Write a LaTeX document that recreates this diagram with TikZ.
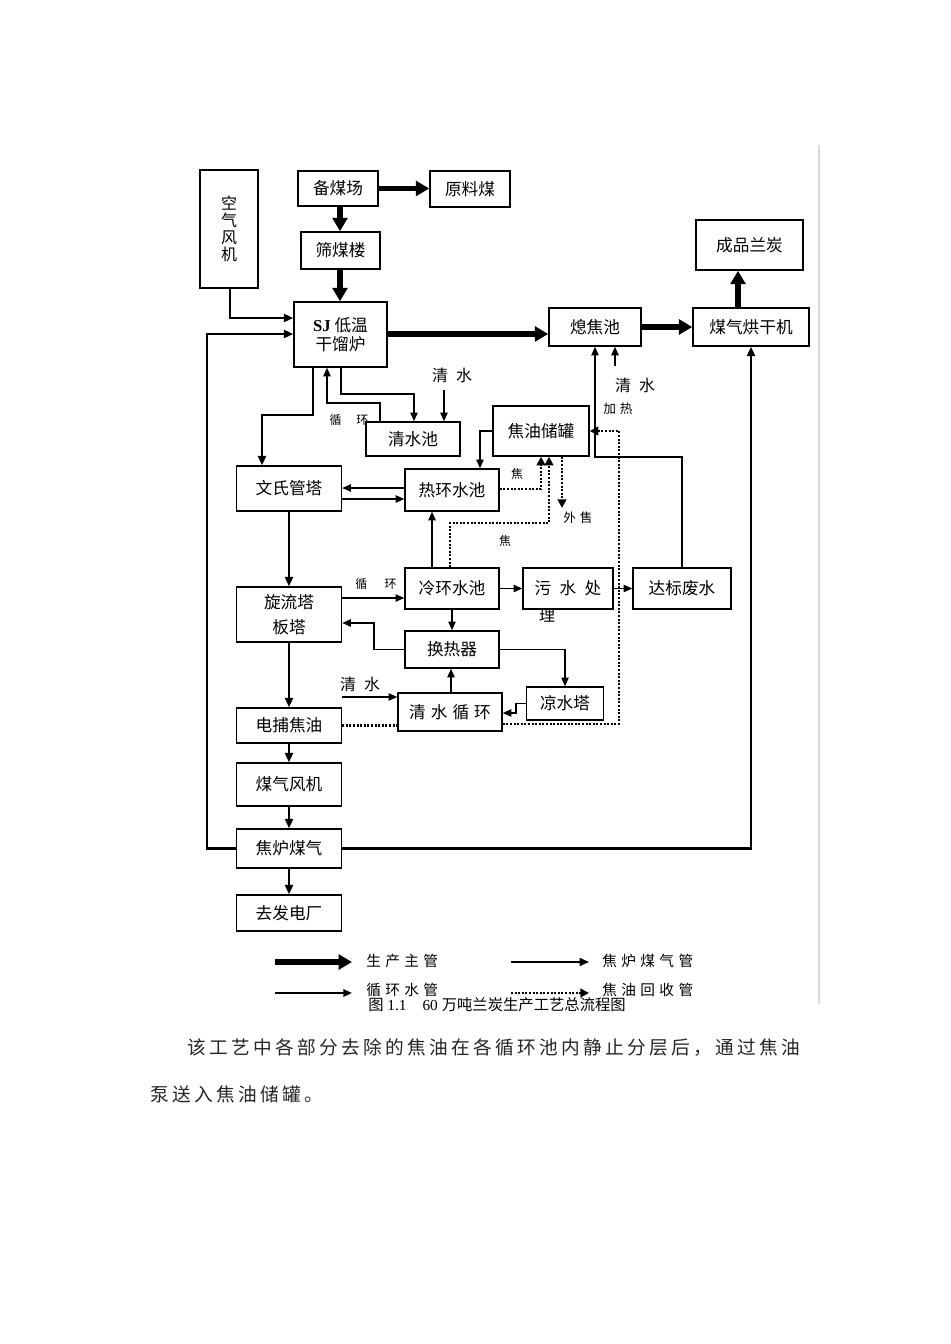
\documentclass[tikz,border=0pt]{standalone}
\usepackage{fontspec}
\setmainfont{Liberation Serif}
\newfontfamily\cjk{Noto Sans CJK SC}
\newfontfamily\cjksp[LetterSpace=30]{Noto Sans CJK SC}
\newfontfamily\cjkwide[LetterSpace=50]{Noto Sans CJK SC}
\newfontfamily\cjkbody[LetterSpace=18]{Noto Sans CJK SC}
\usetikzlibrary{arrows.meta}

\begin{document}
\begin{tikzpicture}[
    x=0.75pt, y=-0.75pt,
    every node/.style={font=\cjk\fontsize{12.5}{14}\selectfont, inner sep=0pt},
    box/.style={draw, line width=1.1pt, align=center},
    sz/.style 2 args={minimum width=#1*0.75pt, minimum height=#2*0.75pt},
    main/.style={line width=3.8pt, -{Triangle[length=10pt,width=11pt]}},
    gas/.style={line width=1.6pt, -{Triangle[length=7pt,width=6pt]}},
    water/.style={line width=1.1pt, -{Triangle[length=6.5pt,width=5.5pt]}},
    oil/.style={line width=2.1pt, dash pattern=on 1.5pt off 1.2pt, -{Triangle[length=6.5pt,width=6.5pt]}},
    tag/.style={font=\cjk\fontsize{9}{11}\selectfont},
    wtag/.style={font=\cjk\fontsize{12}{14}\selectfont},
    legend/.style={font=\cjksp\fontsize{11}{13}\selectfont, anchor=west}
    ]
    \fill[white] (0,0) rectangle (950,1344);
    \useasboundingbox (0,0) rectangle (950,1344);
    \draw[black!15, line width=1pt] (819,145) -- (819,1004);

    \node[box, sz={58}{118}, font=\cjk\fontsize{12}{12.8}\selectfont] (kq) at (229,229) {空\\气\\风\\机};
    \node[box, sz={80}{35}] (bmc) at (338,188.5) {备煤场};
    \node[box, sz={80}{36}] (ylm) at (470,189) {原料煤};
    \node[box, sz={79}{37}] (sml) at (340.5,250.5) {筛煤楼};
    \node[box, sz={93}{65}] (sj) at (340.5,334.5) {{\rmfamily\bfseries SJ} 低温\\干馏炉};
    \node[box, sz={92}{38}] (xjc) at (595,327) {熄焦池};
    \node[box, sz={116}{38}] (hgj) at (751,327) {煤气烘干机};
    \node[box, sz={107}{50}] (cp) at (749.5,245) {成品兰炭};
    \node[box, sz={94}{34}] (qsc) at (413,439) {清水池};
    \node[box, sz={96}{50}] (jycg) at (541,431) {焦油储罐};
    \node[box, sz={105}{45}] (wsg) at (289,488.5) {文氏管塔};
    \node[box, sz={94}{42}] (rhc) at (452,490) {热环水池};
    \node[box, sz={105}{55}, font=\cjk\fontsize{12.5}{18.75}\selectfont] (xlt) at (289,614.5) {旋流塔\\板塔};
    \node[box, sz={94}{41}] (lhc) at (452,588.5) {冷环水池};
    \node[box, sz={90}{41}, font=\cjkwide\fontsize{12.5}{14}\selectfont] (wscl) at (568,588.5) {污水处};
    \node[box, sz={98}{41}] (dbfs) at (682,588.5) {达标废水};
    \node[box, sz={94}{37}] (hrq) at (452,649.5) {换热器};
    \node[box, sz={77}{33}] (lst) at (565,703.5) {凉水塔};
    \node[box, sz={104}{38}, font=\cjksp\fontsize{12.5}{14}\selectfont] (qsxh) at (450,712) {清水循环};
    \node[box, sz={105}{35}] (dbjy) at (289,725.5) {电捕焦油};
    \node[box, sz={105}{43}] (mqfj) at (289,784.5) {煤气风机};
    \node[box, sz={105}{39}] (jlmq) at (289,848.5) {焦炉煤气};
    \node[box, sz={105}{36}] (qfdc) at (289,913) {去发电厂};

    \node[tag] (xh1) at (349,420) {循\hspace{11pt}环};
    \node[tag] (xh2) at (376,584) {循\hspace{13pt}环};
    \node[tag] (jiao1) at (517,474) {焦};
    \node[tag] (jiao2) at (505,541) {焦};
    \node[tag, font=\cjksp\fontsize{9.5}{11}\selectfont] (ws) at (578,518) {外售};
    \node[tag, font=\cjksp\fontsize{9.5}{11}\selectfont] (jr) at (618,409) {加热};
    \node[wtag] (li) at (547,616) {理};
    \node[wtag] (qs1) at (452,375) {清\hspace{6pt}水};
    \node[wtag] (qs2) at (360,684) {清\hspace{6pt}水};
    \node[wtag] (qs3) at (635,385) {清\hspace{6pt}水};
    \coordinate (qs1bot) at (444,390);
    \coordinate (qs2end) at (342,697);
    \coordinate (qs3top) at (615,366);
    \coordinate (wsEnd) at (562,508);

    \draw[main] (bmc.east) -- (ylm.west |- bmc.east);
    \draw[main] (bmc.south -| 340,0) -- (sml.north -| 340,0);
    \draw[main] (sml.south -| 340,0) -- (sj.north -| 340,0);
    \draw[main] (sj.east |- 0,334) -- (xjc.west |- 0,334);
    \draw[main] (xjc) -- (hgj);
    \draw[main] (hgj.north -| 738,0) -- (cp.south -| 738,0);

    \draw[gas] (kq.south -| 230,0) |- (sj.west |- 0,318);
    \draw[gas] (jlmq.west) -| (207,334) -- (sj.west |- 0,334);
    \draw[gas] (jlmq.east) -| (hgj.south);
    \draw[gas] (sj.south -| 313,0) |- (262,415) -- (wsg.north -| 262,0);
    \draw[gas] (wsg) -- (xlt);
    \draw[gas] (xlt) -- (dbjy);
    \draw[gas] (dbjy) -- (mqfj);
    \draw[gas] (mqfj) -- (jlmq);
    \draw[gas] (jlmq) -- (qfdc);

    \draw[water] (qsc.north -| 380,0) |- (327,403) -- (sj.south -| 327,0);
    \draw[water] (sj.south -| 341,0) |- (414,394) -- (qsc.north -| 414,0);
    \draw[water] (qs1bot) -- (qsc.north -| qs1bot);
    \draw[water] (jycg.west) -| (rhc.north -| 480,0);
    \draw[water] (rhc.west |- 0,488) -- (wsg.east |- 0,488);
    \draw[water] (wsg.east |- 0,499) -- (rhc.west |- 0,499);
    \draw[water] (lhc.north -| 432,0) -- (rhc.south -| 432,0);
    \draw[water] (xlt.east |- 0,598) -- (lhc.west |- 0,598);
    \draw[water] (lhc) -- (hrq);
    \draw[water] (hrq.west) -| (374,623) -- (xlt.east |- 0,623);
    \draw[water] (hrq.east) -| (lst.north);
    \draw[water] (qsxh.north -| 451,0) -- (hrq.south -| 451,0);
    \draw[water] (qs2end) -- (qsxh.west |- qs2end);
    \draw[water] (lst.west) -| (516,713) -- (qsxh.east |- 0,713);
    \draw[water] (lhc) -- (wscl);
    \draw[water] (wscl) -- (dbfs);
    \draw[water] (dbfs.north) |- (595,457) -- (xjc.south -| 595,0);
    \draw[water] (qs3top) -- (xjc.south -| qs3top);

    \draw[oil] (rhc.east |- 0,489) -| (jycg.south -| 541,0);
    \draw[oil] (lhc.north -| 450,0) |- (549,523) -- (jycg.south -| 549,0);
    \draw[oil] (jycg.south -| 562,0) -- (wsEnd);
    \draw[oil] (qsxh.east |- 0,724) -| (619,431) -- (jycg.east);
    \draw[oil, -] (dbjy.east) -- (qsxh.west |- dbjy.east);

    \node[legend] (lg1) at (366,961) {生产主管};
    \node[legend] (lg2) at (602,961) {焦炉煤气管};
    \node[legend] (lg3) at (366,990) {循环水管};
    \node[legend] (lg4) at (602,990) {焦油回收管};
    \draw[main] (275,962) -- (352,962);
    \draw[gas, line width=1.3pt] (511,962) -- (589,962);
    \draw[water, line width=1.4pt] (275,993) -- (352,993);
    \draw[oil] (511,993) -- (589,993);

    \node[font=\fontsize{11.5}{13}\selectfont] (cap) at (497,1005) {{\cjk 图} 1.1\hspace{12pt}60 {\cjk 万吨兰炭生产工艺总流程图}};
    \node[anchor=west, text=black!85, font=\cjkbody\fontsize{14}{16}\selectfont] (p1) at (187,1048) {该工艺中各部分去除的焦油在各循环池内静止分层后，通过焦油};
    \node[anchor=west, text=black!85, font=\cjkbody\fontsize{14}{16}\selectfont] (p2) at (150,1094) {泵送入焦油储罐。};
\end{tikzpicture}
\end{document}
